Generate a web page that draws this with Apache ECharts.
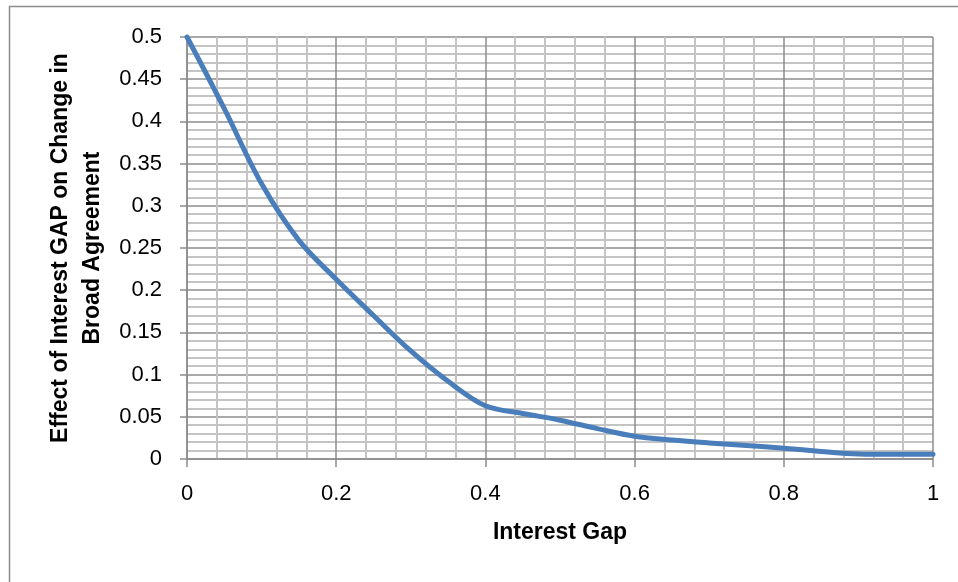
<!DOCTYPE html>
<html>
<head>
<meta charset="utf-8">
<script src="https://cdn.jsdelivr.net/npm/echarts@6/dist/echarts.min.js"></script>
<style>
  html, body { margin: 0; padding: 0; background: #fff; }
  #chart { width: 958px; height: 582px; }
</style>
</head>
<body>
<div id="chart"></div>
<script>
// Interest gap (x) and its effect on change in broad agreement (y)
var gapValues = [0, 0.05, 0.1, 0.15, 0.2, 0.25, 0.3, 0.35, 0.4, 0.45, 0.5,
                 0.55, 0.6, 0.65, 0.7, 0.75, 0.8, 0.85, 0.9, 0.95, 1.0];
var effectValues = [0.5, 0.415, 0.326, 0.259, 0.213, 0.170, 0.128, 0.092, 0.063, 0.054, 0.046,
                    0.036, 0.027, 0.0225, 0.019, 0.016, 0.0127, 0.009, 0.006, 0.0055, 0.0055];

var xTitle = 'Interest Gap';
var yTitle = 'Effect of Interest GAP on Change in\nBroad Agreement';

var points = gapValues.map(function (g, i) { return [g, effectValues[i]]; });

var chart = echarts.init(document.getElementById('chart'), null, { renderer: 'canvas' });

var font = '"Liberation Sans", Arial, sans-serif';
var majorColor = '#8c8c8c';
var minorColor = '#c4c4c4';

function fmt(v) { return String(+v.toFixed(2)); }

chart.setOption({
  animation: false,
  backgroundColor: '#ffffff',
  graphic: [{
    type: 'rect',
    shape: { x: 9.5, y: 6.5, width: 1000, height: 1000 },
    style: { fill: 'none', stroke: '#8c8c8c', lineWidth: 1.5 },
    silent: true
  }],
  grid: { left: 187, right: 25, top: 37, bottom: 123, containLabel: false },
  xAxis: {
    type: 'value',
    min: 0, max: 1, interval: 0.2,
    name: xTitle,
    nameLocation: 'middle',
    nameGap: 62,
    nameTextStyle: { fontFamily: font, fontSize: 23, fontWeight: 'bold', color: '#000',
                     verticalAlign: 'top' },
    axisLine: { show: true, onZero: false, lineStyle: { color: majorColor, width: 1.5 } },
    axisTick: { show: true, length: 8, lineStyle: { color: majorColor, width: 1.5 } },
    axisLabel: { fontFamily: font, fontSize: 22, color: '#000', margin: 24, formatter: fmt },
    splitLine: { show: true, lineStyle: { color: majorColor, width: 1.5 } },
    minorTick: { show: false, splitNumber: 5 },
    minorSplitLine: { show: true, lineStyle: { color: minorColor, width: 2 } }
  },
  yAxis: {
    type: 'value',
    min: 0, max: 0.5, interval: 0.05,
    name: yTitle,
    nameLocation: 'middle',
    nameGap: 77,
    nameRotate: 90,
    nameTextStyle: { fontFamily: font, fontSize: 23, fontWeight: 'bold', color: '#000',
                     lineHeight: 32, align: 'center' },
    axisLine: { show: true, lineStyle: { color: majorColor, width: 1.5 } },
    axisTick: { show: true, length: 7, lineStyle: { color: majorColor, width: 1.5 } },
    axisLabel: { fontFamily: font, fontSize: 22, color: '#000', margin: 25, formatter: fmt },
    splitLine: { show: true, lineStyle: { color: majorColor, width: 1.5 } },
    minorTick: { show: false, splitNumber: 5 },
    minorSplitLine: { show: true, lineStyle: { color: minorColor, width: 2 } }
  },
  series: [{
    type: 'line',
    data: points,
    smooth: 0.35,
    showSymbol: false,
    symbol: 'none',
    clip: false,
    lineStyle: { color: '#4a7ebb', width: 5, cap: 'round', join: 'round' }
  }]
});
</script>
</body>
</html>
